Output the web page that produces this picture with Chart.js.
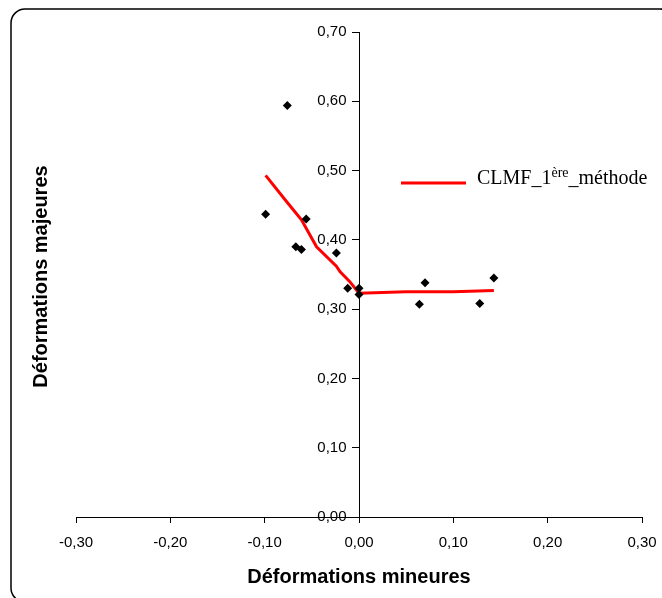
<!DOCTYPE html>
<html>
<head>
<meta charset="utf-8">
<script src="https://cdn.jsdelivr.net/npm/chart.js@4.4.1/dist/chart.umd.min.js"></script>
<style>
  html, body { margin: 0; padding: 0; background: #fff; }
  #wrap { width: 662px; height: 598px; position: relative; }
</style>
</head>
<body>
<div id="wrap"><canvas id="chartCLMF"></canvas></div>
<script>
// Mesures : déformation mineure (x) et majeure (y)
const minorStrain = [-0.099, -0.076, -0.067, -0.061, -0.056, -0.024, -0.012, 0.000, 0.000, 0.064, 0.070, 0.128, 0.143];
const majorStrain = [0.437, 0.594, 0.390, 0.386, 0.430, 0.381, 0.330, 0.330, 0.321, 0.307, 0.338, 0.308, 0.345];

// Courbe limite de formage (1ère méthode)
const curveMinor = [-0.099, -0.076, -0.061, -0.045, -0.024, -0.020, -0.010, 0.000, 0.050, 0.100, 0.143];
const curveMajor = [0.493, 0.454, 0.429, 0.390, 0.362, 0.354, 0.340, 0.323, 0.325, 0.325, 0.327];

const xRange = [-0.30, 0.30];
const yRange = [0.00, 0.70];
const tickStep = 0.10;

const seriesName = ['CLMF_1', 'ère', '_méthode'];
const xTitle = 'Déformations mineures';
const yTitle = 'Déformations majeures';

const el = (id) => document.getElementById(id);
const toPoints = (xs, ys) => xs.map((x, i) => ({ x, y: ys[i] }));
const fmtTick = (v) => (Math.abs(v) < 1e-9 ? 0 : v).toFixed(2).replace('.', ',');

const SANS = '"Liberation Sans", Arial, sans-serif';
const SERIF = '"Liberation Serif", "Times New Roman", serif';

// cadre arrondi, titres des axes et légende (exposant dans le libellé)
const decorations = {
  id: 'decorations',
  afterDraw(chart) {
    const ctx = chart.ctx;
    ctx.save();
    ctx.strokeStyle = '#000';
    ctx.lineWidth = 1.5;
    ctx.beginPath();
    ctx.roundRect(11, 9, 663, 593, 14);
    ctx.stroke();

    ctx.fillStyle = '#000';
    ctx.font = 'bold 20px ' + SANS;
    ctx.textAlign = 'center';
    ctx.textBaseline = 'middle';
    const area = chart.chartArea;
    ctx.fillText(xTitle, chart.scales.x.getPixelForValue(0), 577);
    ctx.translate(41, (area.top + area.bottom) / 2 + 2);
    ctx.rotate(-Math.PI / 2);
    ctx.fillText(yTitle, 0, 0);
    ctx.restore();

    // légende
    ctx.save();
    ctx.strokeStyle = '#FF0000';
    ctx.lineWidth = 3;
    ctx.beginPath();
    ctx.moveTo(401, 183);
    ctx.lineTo(466, 183);
    ctx.stroke();
    ctx.fillStyle = '#000';
    ctx.textAlign = 'left';
    ctx.textBaseline = 'alphabetic';
    let x = 477;
    ctx.font = '20px ' + SERIF;
    ctx.fillText(seriesName[0], x, 184);
    x += ctx.measureText(seriesName[0]).width;
    ctx.font = '14px ' + SERIF;
    ctx.fillText(seriesName[1], x, 177);
    x += ctx.measureText(seriesName[1]).width;
    ctx.font = '20px ' + SERIF;
    ctx.fillText(seriesName[2], x, 184);
    ctx.restore();
  }
};

new Chart(el('chartCLMF').getContext('2d'), {
  type: 'scatter',
  data: {
    datasets: [{
      label: 'Mesures',
      data: toPoints(minorStrain, majorStrain),
      pointStyle: 'rectRot',
      pointRadius: 4.5,
      pointBackgroundColor: '#000',
      pointBorderColor: '#000',
      pointBorderWidth: 0,
      showLine: false,
    }, {
      label: 'CLMF_1ère_méthode',
      data: toPoints(curveMinor, curveMajor),
      showLine: true,
      borderColor: '#FF0000',
      borderWidth: 3,
      pointRadius: 0,
      tension: 0,
    }],
  },
  options: {
    responsive: true,
    maintainAspectRatio: false,
    animation: false,
    layout: { padding: { left: 76, right: 20, top: 32, bottom: 0 } },
    scales: {
      x: {
        type: 'linear',
        min: xRange[0],
        max: xRange[1],
        // hauteur fixe ; les marges latérales viennent du seul layout.padding
        afterFit: (scale) => {
          scale.height = 81;
          scale.paddingLeft = 0;
          scale.paddingRight = 0;
        },
        ticks: {
          stepSize: tickStep,
          color: '#000',
          font: { family: SANS, size: 15 },
          padding: 11,
          maxRotation: 0,
          callback: fmtTick,
        },
        grid: { drawOnChartArea: false, drawTicks: true, tickLength: 6, color: '#000' },
        border: { display: true, color: '#000', width: 1 },
      },
      y: {
        type: 'linear',
        position: { x: 0 },
        min: yRange[0],
        max: yRange[1],
        ticks: {
          stepSize: tickStep,
          color: '#000',
          font: { family: SANS, size: 15 },
          // l'axe centré aligne les libellés sur la ligne : on les décale par des espaces
          callback: (v) => fmtTick(v) + '   ',
        },
        grid: { drawOnChartArea: false, drawTicks: true, tickLength: 7, color: '#000' },
        border: { display: true, color: '#000', width: 1 },
      },
    },
    plugins: {
      legend: { display: false },
      tooltip: { enabled: false },
    },
  },
  plugins: [decorations],
});
</script>
</body>
</html>
